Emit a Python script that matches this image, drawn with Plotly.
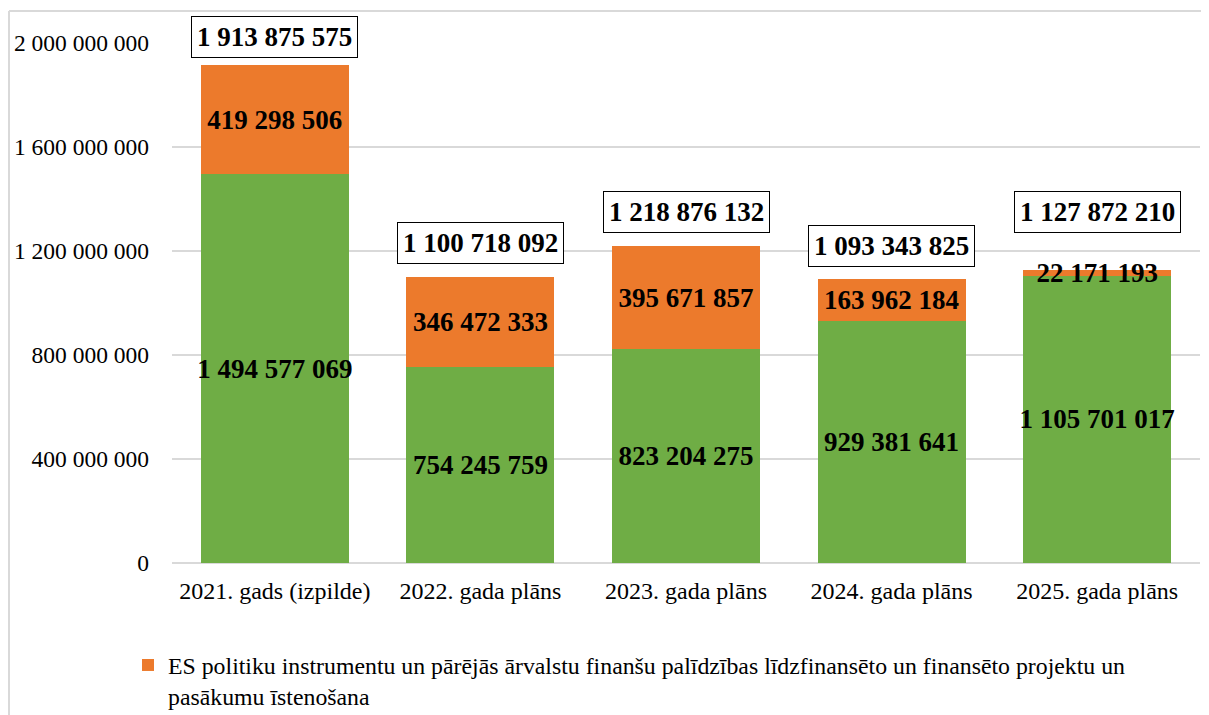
import plotly.graph_objects as go

categories = ["2021. gads (izpilde)", "2022. gada plāns", "2023. gada plāns",
              "2024. gada plāns", "2025. gada plāns"]
green_values = [1494577069, 754245759, 823204275, 929381641, 1105701017]
orange_values = [419298506, 346472333, 395671857, 163962184, 22171193]
totals = [g + o for g, o in zip(green_values, orange_values)]
tick_vals = [0, 400000000, 800000000, 1200000000, 1600000000, 2000000000]

orange_name = ("ES politiku instrumentu un pārējās ārvalstu finanšu palīdzības "
               "līdzfinansēto un finansēto projektu un<br>pasākumu īstenošana")

# pixel offsets of the total boxes above bar tops (style)
total_shifts = [28, 34, 34, 33, 58]

FONT = "Liberation Serif, Times New Roman, serif"

def fmt(v):
    return f"{v:,}".replace(",", " ")

fig = go.Figure()
fig.add_trace(go.Bar(
    x=categories, y=green_values, name="green", showlegend=False,
    marker=dict(color="#6FAD45", line=dict(width=0)),
    text=[fmt(v) for v in green_values], textposition="inside",
    insidetextanchor="middle", textangle=0, constraintext="none",
    textfont=dict(family=FONT, size=27, color="black", weight="bold"),
    hoverinfo="skip",
))
fig.add_trace(go.Bar(
    x=categories, y=orange_values, name=orange_name,
    marker=dict(color="#EC7A2C", line=dict(width=0)),
    text=[fmt(v) for v in orange_values], textposition="inside",
    insidetextanchor="middle", textangle=0, constraintext="none",
    textfont=dict(family=FONT, size=27, color="black", weight="bold"),
    hoverinfo="skip",
))

for c, t, s in zip(categories, totals, total_shifts):
    fig.add_annotation(
        x=c, y=t, text=fmt(t), showarrow=False, yshift=s, yanchor="middle",
        font=dict(family=FONT, size=27, color="black", weight="bold"),
        bgcolor="white", bordercolor="black", borderwidth=1, borderpad=5,
    )

# page body offset of 8px is compensated in the figure coordinates
OFF = 8
L, T, B, R = 172 - OFF, 43 - OFF, 563 - OFF, 1200 - OFF
W, H = R - L, B - T
def px(x): return (x - OFF - L) / W
def py(y): return (B - (y - OFF)) / H
fig.add_shape(type="line", xref="paper", yref="paper",
              x0=px(9), x1=px(9), y0=py(11), y1=py(730),
              line=dict(color="#D9D9D9", width=2))
fig.add_shape(type="line", xref="paper", yref="paper",
              x0=px(9), x1=px(1230), y0=py(11), y1=py(11),
              line=dict(color="#D9D9D9", width=2))

fig.update_layout(
    width=1209, height=715,
    margin=dict(l=L, r=1209 - R, t=T, b=715 - B, autoexpand=False),
    barmode="stack", bargap=0.28,
    paper_bgcolor="white", plot_bgcolor="white",
    separators=", ",
    font=dict(family=FONT, size=24, color="#000000"),
    showlegend=True,
    legend=dict(orientation="h", x=px(128), xanchor="left",
                y=py(643), yanchor="top", valign="top",
                font=dict(family=FONT, size=23.8, color="black"),
                bgcolor="rgba(0,0,0,0)"),
    xaxis=dict(showgrid=False, showline=False, ticks="", automargin=False,
               tickfont=dict(family=FONT, size=24, color="black"),
               ticklabelstandoff=11),
    yaxis=dict(range=[0, 2000000000], tickvals=tick_vals,
               ticktext=[fmt(v) for v in tick_vals], automargin=False,
               showgrid=True, gridcolor="#D9D9D9", gridwidth=2,
               zeroline=True, zerolinecolor="#D9D9D9", zerolinewidth=2,
               showline=False, ticks="",
               tickfont=dict(family=FONT, size=23.5, color="black"),
               ticklabelstandoff=22),
)

fig.write_html("out.html")
